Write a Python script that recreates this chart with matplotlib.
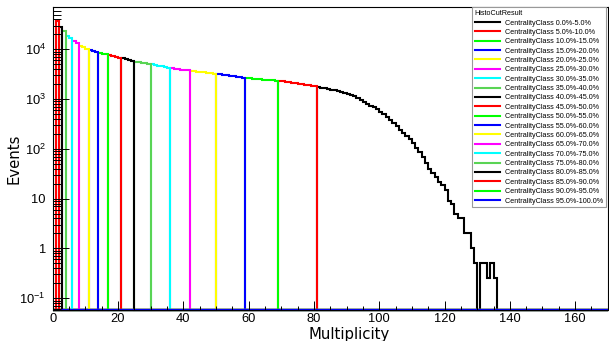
import numpy as np
import matplotlib
matplotlib.use("Agg")
import matplotlib.pyplot as plt
from matplotlib.ticker import MultipleLocator, FixedLocator, FuncFormatter, NullFormatter
from matplotlib.lines import Line2D

plt.rcParams["font.family"] = ["Liberation Sans", "DejaVu Sans"]
plt.rcParams["mathtext.fontset"] = "custom"
plt.rcParams["mathtext.rm"] = "Liberation Sans"
plt.rcParams["mathtext.it"] = "Liberation Sans:italic"

# multiplicity histogram, bin width 1, bins 0..135 (rest empty)
bin_counts = [
    0, 36800, 27800, 23100, 18600, 16900, 14700, 13400, 11800, 11000,
    10300, 9800, 9300, 8900, 8400, 8100, 7900, 7700, 7400, 7100,
    6850, 6600, 6350, 6100, 5900, 5700, 5550, 5400, 5250, 5130,
    5000, 4850, 4700, 4550, 4420, 4300, 4200, 4100, 4000, 3920,
    3840, 3770, 3700, 3630, 3560, 3490, 3430, 3370, 3310, 3260,
    3210, 3150, 3090, 3030, 2970, 2900, 2840, 2780, 2720, 2670,
    2630, 2590, 2550, 2510, 2480, 2450, 2420, 2390, 2360, 2330,
    2290, 2250, 2200, 2150, 2100, 2050, 2000, 1960, 1910, 1870,
    1830, 1760, 1700, 1650, 1600, 1550, 1500, 1440, 1390, 1330,
    1270, 1200, 1130, 1050, 970, 890, 810, 740, 680, 620,
    560, 500, 440, 380, 330, 285, 245, 210, 180, 155,
    130, 105, 85, 68, 52, 40, 33, 27, 22, 19,
    15, 9, 8, 5, 4, 4, 2, 2, 1, 0.5,
    0, 0.5, 0.5, 0.25, 0.5, 0.25,
]
n_bins = 170

# centrality classes (0-5% first), multiplicity range [lo, hi)
class_pct = [0, 5, 10, 15, 20, 25, 30, 35, 40, 45, 50, 55, 60, 65, 70, 75, 80, 85, 90, 95]
class_lo = [81, 69, 59, 50, 42, 36, 30, 25, 21, 17, 14, 11, 8, 6, 4, 3, 2, 1, 0, 0]
class_hi = [170, 81, 69, 59, 50, 42, 36, 30, 25, 21, 17, 14, 11, 8, 6, 4, 3, 2, 1, 0]
root_colors = ["#000000", "#ff0000", "#00ff00", "#0000ff",
               "#ffff00", "#ff00ff", "#00ffff", "#59d454"]
class_colors = [root_colors[i % 8] for i in range(20)]

y_floor = 0.058
y_top = 7.0e4
y_decades = [-1, 0, 1, 2, 3, 4]

fig = plt.figure(figsize=(6.09, 3.41), dpi=100)
ax = fig.add_axes([52.7 / 609, 1 - 310 / 341, (607.8 - 52.7) / 609, (310 - 7.3) / 341])

edges = np.arange(n_bins + 1)
counts = np.zeros(n_bins)
counts[:len(bin_counts)] = bin_counts
bins = np.arange(n_bins)

handles = []
labels = []
for pct, lo, hi, col in zip(class_pct, class_lo, class_hi, class_colors):
    vals = np.where((bins >= lo) & (bins < hi), counts, 0.0)
    vals = np.where(vals > 0, vals, y_floor)
    ax.stairs(vals, edges, baseline=None, color=col, lw=1.5, clip_on=False)
    handles.append(Line2D([], [], color=col, lw=1.5))
    labels.append(f"CentralityClass {pct:.1f}%-{pct + 5:.1f}%")

ax.set_yscale("log")
ax.set_xlim(0, 170)
ax.set_ylim(y_floor, y_top)

ax.xaxis.set_major_locator(MultipleLocator(20))
ax.xaxis.set_minor_locator(MultipleLocator(5))
major_y = [10.0 ** e for e in y_decades]
minor_y = [m * 10.0 ** e for e in [-2] + y_decades for m in range(2, 10)]
minor_y = [v for v in minor_y if y_floor <= v <= y_top]
ax.yaxis.set_major_locator(FixedLocator(major_y))
ax.yaxis.set_minor_locator(FixedLocator(minor_y))
ax.yaxis.set_minor_formatter(NullFormatter())


def ylab(v, pos):
    e = int(round(np.log10(v)))
    if e == 0:
        return "1"
    if e == 1:
        return "10"
    return r"$10^{%d}$" % e


ax.yaxis.set_major_formatter(FuncFormatter(ylab))
ax.tick_params(axis="both", which="both", direction="in", top=False, right=False,
               labelsize=9.3, color="black")
ax.tick_params(axis="y", which="major", length=11.5, width=0.7, pad=5)
ax.tick_params(axis="y", which="minor", length=5.8, width=0.7)
ax.tick_params(axis="x", which="major", length=6.5, width=0.7, pad=2.5)
ax.tick_params(axis="x", which="minor", length=3.2, width=0.7)
for s in ax.spines.values():
    s.set_linewidth(0.8)

ax.set_xlabel("Multiplicity", fontsize=10.7, family="DejaVu Sans", va="top")
ax.xaxis.set_label_coords(0.534, -0.055)
ax.set_ylabel("Events", fontsize=10.7, family="DejaVu Sans")
ax.yaxis.set_label_coords(-0.056, 0.5)

leg = ax.legend(handles, labels, title="HistoCutResult", loc="upper left",
                bbox_to_anchor=(471.7 / 609, 1 - 7.3 / 341), bbox_transform=fig.transFigure,
                fontsize=5.2, title_fontsize=5.2, alignment="left", frameon=True,
                fancybox=False, edgecolor="#999999", framealpha=1, borderpad=0.4,
                labelspacing=0.32, handlelength=3.5, handletextpad=0.7, borderaxespad=0)
leg.get_frame().set_linewidth(0.8)

fig.savefig("out.png", dpi=100)
